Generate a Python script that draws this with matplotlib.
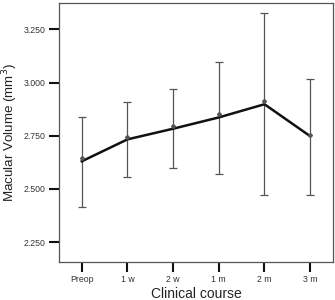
import matplotlib

matplotlib.use("Agg")

import matplotlib.pyplot as plt
import numpy as np

# Clinical course categories
stages = ["Preop", "1 w", "2 w", "1 m", "2 m", "3 m"]
# mean macular volume (line) and marker positions
mean_volume = [2.630, 2.733, 2.783, 2.836, 2.898, 2.748]
marker_volume = [2.646, 2.746, 2.796, 2.851, 2.914, 2.753]
# 95% CI bounds
ci_low = [2.417, 2.555, 2.600, 2.571, 2.473, 2.471]
ci_high = [2.840, 2.909, 2.968, 3.098, 3.325, 3.018]

plt.rcParams["font.family"] = ["Liberation Sans", "DejaVu Sans"]

fig = plt.figure(figsize=(3.35, 3.0), dpi=100)
ax = fig.add_axes([0.176, 0.127, 0.818, 0.862])

x = np.arange(len(stages))
mean = np.asarray(mean_volume)
lower = mean - np.asarray(ci_low)
upper = np.asarray(ci_high) - mean

ax.errorbar(x, mean, yerr=[lower, upper], fmt="none", ecolor="#555555",
            elinewidth=0.9, capsize=3.0, capthick=0.9, zorder=2)
ax.plot(x, mean, color="#111111", linewidth=1.8, zorder=3)
ax.plot(x, marker_volume, linestyle="none", marker="D", markersize=2.0,
        color="#555555", zorder=4)

ax.set_xlim(-0.5, 5.5)
ax.set_ylim(2.1575, 3.372)
ax.set_xticks(x)
ax.set_xticklabels(stages)
ax.set_yticks([2.25, 2.5, 2.75, 3.0, 3.25])
ax.set_yticklabels(["2.250", "2.500", "2.750", "3.000", "3.250"])
ax.tick_params(axis="both", length=7, width=1.5, color="#111111",
               labelsize=6.3, labelcolor="#333333", pad=2.5)

for spine in ax.spines.values():
    spine.set_color("#555555")
    spine.set_linewidth(0.9)

ax.set_ylabel("Macular Volume (mm$^3$)", fontsize=9.6, color="#222222", labelpad=3)
ax.set_xlabel("Clinical course", fontsize=10, color="#222222", labelpad=2)

fig.savefig("out.png", dpi=100)
